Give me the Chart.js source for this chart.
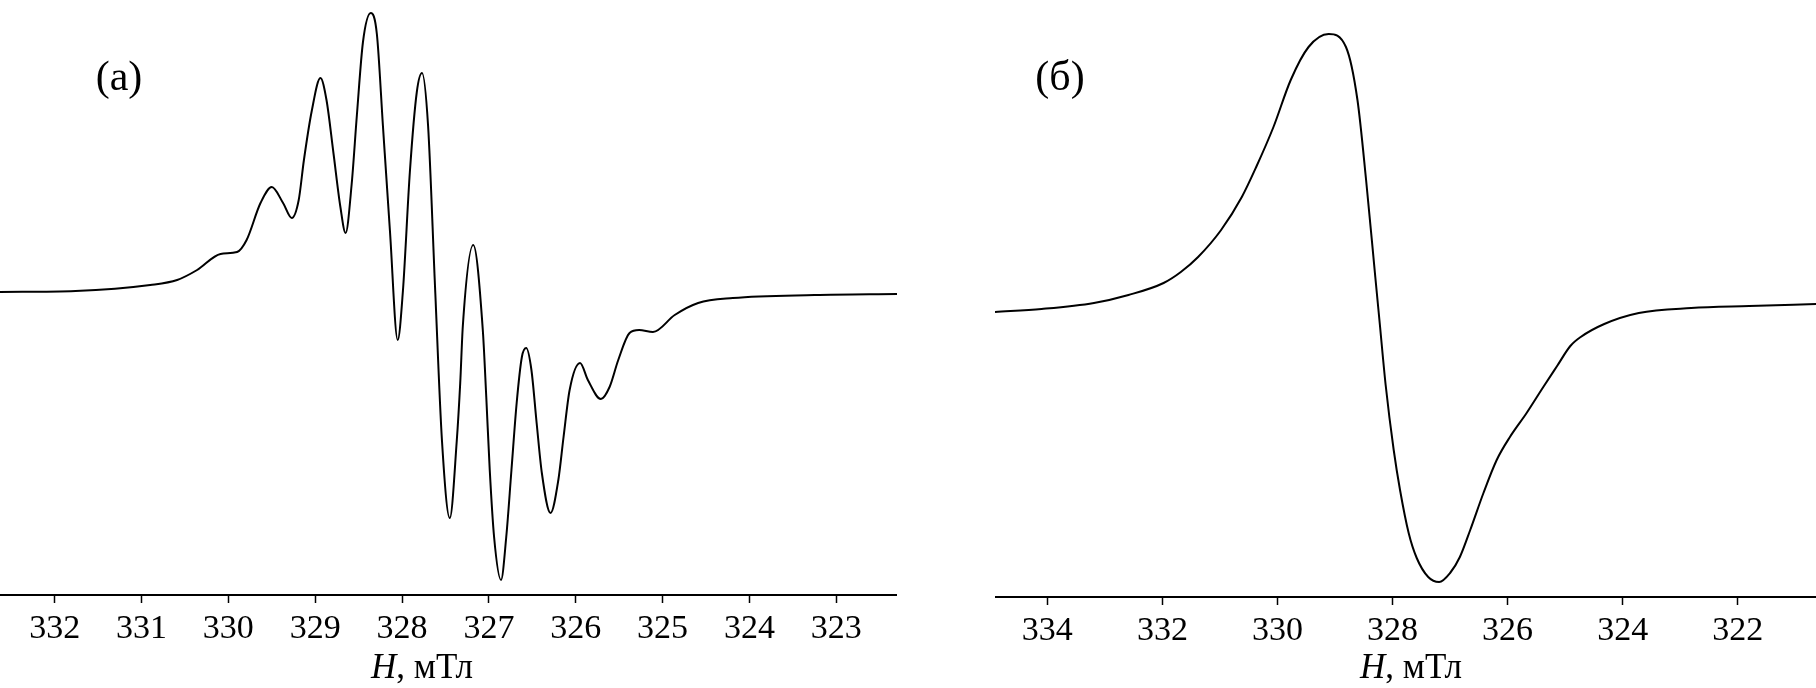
<!DOCTYPE html>
<html>
<head>
<meta charset="utf-8">
<script src="https://cdn.jsdelivr.net/npm/chart.js@4.4.1/dist/chart.umd.min.js"></script>
<style>
  html, body { margin: 0; padding: 0; background: #fff; }
  body { width: 1816px; height: 688px; position: relative; overflow: hidden; }
  .panel { position: absolute; top: 0; height: 688px; }
  #wrapA { left: 0; width: 897px; }
  #wrapB { left: 995px; width: 821px; }
</style>
</head>
<body>
<div class="panel" id="wrapA"><canvas id="chartA" width="897" height="688"></canvas></div>
<div class="panel" id="wrapB"><canvas id="chartB" width="821" height="688"></canvas></div>
<script>
// Spectrum (a): field in mT, signal in arbitrary units
const fieldA = [
    332.63, 331.76, 330.90, 330.59, 330.36, 330.09, 329.90, 329.79, 329.63, 329.50,
    329.37, 329.27, 329.19, 329.13, 329.04, 328.94, 328.87, 328.79, 328.71, 328.65,
    328.58, 328.52, 328.45, 328.36, 328.29, 328.22, 328.14, 328.05, 327.99, 327.91,
    327.83, 327.77, 327.70, 327.62, 327.54, 327.45, 327.37, 327.33, 327.30, 327.18,
    327.07, 327.03, 326.99, 326.94, 326.86, 326.80, 326.74, 326.68, 326.62, 326.57,
    326.51, 326.45, 326.39, 326.29, 326.20, 326.14, 326.07, 325.95, 325.86, 325.71,
    325.61, 325.51, 325.38, 325.27, 325.11, 324.86, 324.59, 324.19, 323.25, 322.30
];
const signalA = [
    -1, 0, 6, 11, 21, 37, 39, 51, 88, 104,
    88, 73, 91, 131, 180, 213, 191, 138, 84, 58,
    107, 176, 249, 278, 257, 165, 61, -49, 0, 119,
    199, 218, 165, 4, -150, -227, -150, -92, -35, 46,
    -39, -106, -179, -246, -289, -246, -179, -112, -66, -57,
    -79, -132, -182, -222, -189, -146, -99, -72, -89, -108,
    -96, -69, -42, -39, -41, -24, -12, -7, -4, -3
];

// Spectrum (б)
const fieldB = [
    334.91, 334.10, 333.19, 332.59, 331.98, 331.68, 331.38, 330.98, 330.62, 330.37,
    330.07, 329.77, 329.46, 329.11, 328.81, 328.61, 328.46, 328.30, 328.22, 328.12,
    327.98, 327.87, 327.72, 327.58, 327.38, 327.19, 327.00, 326.83, 326.65, 326.42,
    326.19, 325.96, 325.67, 325.38, 325.14, 324.91, 324.73, 324.32, 323.72, 322.81,
    321.80, 320.64
];
const signalB = [
    -2, 1, 7, 15, 27, 38, 53, 80, 113, 143,
    183, 230, 263, 276, 263, 210, 130, 33, -15, -75,
    -140, -180, -223, -248, -267, -272, -263, -247, -220, -183,
    -150, -127, -103, -77, -56, -36, -27, -14, -3, 2,
    4, 6
];

const panelNames = ['(а)', '(б)'];
const axisTitle = ['H', ', мТл'];
const serif = '"Liberation Serif", "Times New Roman", serif';

// panel letter and axis title (italic H + upright unit)
const textPlugin = {
    id: 'texts',
    afterDraw(chart, args, opts) {
        const ctx = chart.ctx;
        ctx.save();
        ctx.fillStyle = '#000';
        ctx.font = '42px ' + serif;
        ctx.textAlign = 'center';
        ctx.textBaseline = 'middle';
        ctx.fillText(opts.name, opts.nameX, opts.nameY);

        ctx.textAlign = 'left';
        ctx.textBaseline = 'alphabetic';
        const italic = 'italic 35px ' + serif;
        const normal = '35px ' + serif;
        ctx.font = italic;
        const w1 = ctx.measureText(axisTitle[0]).width;
        ctx.font = normal;
        const w2 = ctx.measureText(axisTitle[1]).width;
        const x = opts.titleX - (w1 + w2) / 2;
        ctx.font = italic;
        ctx.fillText(axisTitle[0], x, opts.titleY);
        ctx.font = normal;
        ctx.fillText(axisTitle[1], x + w1, opts.titleY);
        ctx.restore();
    }
};

function makeChart(id, fields, signals, xMin, xMax, step, yMin, yMax, axisH, texts) {
    return new Chart(document.getElementById(id), {
        type: 'line',
        data: {
            datasets: [{
                data: fields.map((f, i) => ({ x: f, y: signals[i] })),
                borderColor: '#000',
                borderWidth: 2,
                pointRadius: 0,
                fill: false,
                cubicInterpolationMode: 'monotone'
            }]
        },
        options: {
            responsive: false,
            animation: false,
            layout: { padding: 0 },
            plugins: {
                legend: { display: false },
                tooltip: { enabled: false },
                texts: texts
            },
            scales: {
                x: {
                    type: 'linear',
                    reverse: true,
                    min: xMin,
                    max: xMax,
                    afterFit: s => { s.height = axisH; },
                    border: { display: true, color: '#000', width: 2 },
                    grid: { display: true, drawOnChartArea: false, drawTicks: true,
                            tickLength: 8, tickWidth: 1.5, tickColor: '#000' },
                    ticks: {
                        stepSize: step,
                        includeBounds: false,
                        autoSkip: false,
                        maxRotation: 0,
                        padding: 6,
                        color: '#000',
                        font: { family: serif, size: 34 }
                    }
                },
                y: { display: false, min: yMin, max: yMax }
            }
        },
        plugins: [textPlugin]
    });
}

makeChart('chartA', fieldA, signalA, 322.30, 332.63, 1, -304, 291, 93,
    { name: panelNames[0], nameX: 119, nameY: 79, titleX: 422, titleY: 678 });
makeChart('chartB', fieldB, signalB, 320.64, 334.91, 2, -287, 310, 91,
    { name: panelNames[1], nameX: 65, nameY: 79, titleX: 416, titleY: 678 });
</script>
</body>
</html>
